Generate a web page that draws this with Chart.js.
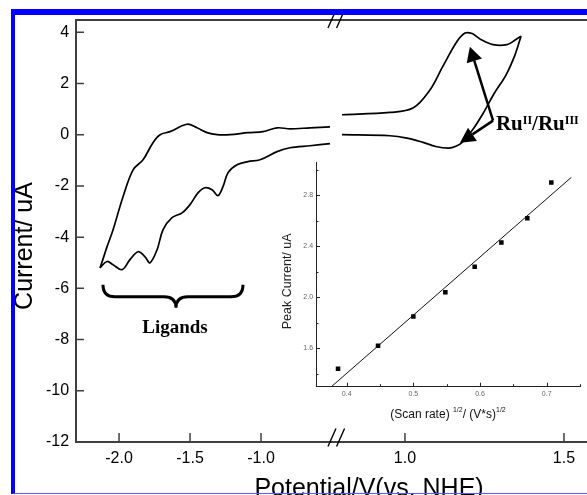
<!DOCTYPE html>
<html>
<head>
<meta charset="utf-8">
<script src="https://cdn.jsdelivr.net/npm/chart.js@4.4.1/dist/chart.umd.min.js"></script>
<style>
  html, body { margin: 0; padding: 0; background: #fff; }
  body { width: 587px; height: 495px; overflow: hidden; position: relative; }
  #main { position: absolute; left: 0; top: 0; width: 587px; height: 495px; }
  #inset { position: absolute; left: 270px; top: 150px; width: 317px; height: 285px; }
  #frame { position: absolute; left: 11px; top: 9px; width: 600px; height: 478px;
           border-top: 6px solid #0000ff; border-left: 4px solid #0000ff; border-bottom: 1px solid #5a5aff;
           pointer-events: none; }
</style>
</head>
<body>
<div id="main"><canvas id="cv"></canvas></div>
<div id="inset"><canvas id="peak"></canvas></div>
<div id="frame"></div>
<script>
Chart.defaults.font.family = "'Liberation Sans', Arial, sans-serif";
Chart.defaults.color = '#000';

// cyclic voltammogram, ligand region (E in V vs NHE, I in uA)
const ligandUpperE = [-2.134, -2.122, -2.085, -2.042, -1.972, -1.901, -1.831, -1.761, -1.711, -1.641, -1.521, -1.451, -1.380, -1.310, -1.218, -1.092, -0.986, -0.887, -0.796, -0.655, -0.514];
const ligandUpperI = [-5.20, -5.01, -4.38, -3.71, -2.42, -1.37, -0.98, -0.31, 0.00, 0.12, 0.41, 0.27, 0.08, 0.00, 0.00, 0.08, 0.12, 0.27, 0.23, 0.27, 0.31];
const ligandLowerE = [-2.134, -2.085, -2.042, -1.979, -1.923, -1.866, -1.817, -1.782, -1.732, -1.690, -1.627, -1.556, -1.500, -1.444, -1.394, -1.345, -1.303, -1.268, -1.232, -1.169, -1.092, -1.007, -0.887, -0.796, -0.655, -0.514];
const ligandLowerI = [-5.20, -4.95, -5.08, -5.27, -4.88, -4.57, -4.77, -5.00, -4.49, -3.71, -3.24, -3.05, -2.73, -2.27, -2.07, -2.15, -2.38, -2.03, -1.48, -1.17, -1.05, -0.98, -0.66, -0.51, -0.43, -0.35];

// Ru(II)/Ru(III) couple
const rutheniumUpperE = [0.802, 0.953, 1.025, 1.079, 1.119, 1.164, 1.189, 1.211, 1.236, 1.277, 1.321, 1.349, 1.365];
const rutheniumUpperI = [0.78, 0.87, 1.04, 1.76, 2.67, 3.65, 3.97, 3.95, 3.74, 3.52, 3.52, 3.72, 3.85];
const rutheniumLowerE = [0.802, 0.953, 1.006, 1.057, 1.097, 1.138, 1.160, 1.180, 1.211, 1.245, 1.280, 1.318, 1.346, 1.365];
const rutheniumLowerI = [0.00, -0.04, -0.13, -0.30, -0.46, -0.52, -0.45, -0.30, 0.16, 0.82, 1.60, 2.34, 3.12, 3.85];

const potentialTicks = [-2.0, -1.5, -1.0, 1.0, 1.5];
const currentTicks = [-12, -10, -8, -6, -4, -2, 0, 2, 4];

// peak current vs square root of scan rate
const scanRoot = [0.387, 0.447, 0.500, 0.548, 0.592, 0.632, 0.671, 0.707];
const peakCurrent = [1.44, 1.62, 1.85, 2.04, 2.24, 2.43, 2.62, 2.90];
const fitScanRoot = [0.377, 0.737];
const fitPeakCurrent = [1.30, 2.94];
const scanTicks = [0.4, 0.45, 0.5, 0.55, 0.6, 0.65, 0.7, 0.75];
const scanTickLabels = ['0.4', '', '0.5', '', '0.6', '', '0.7', ''];
const peakTicks = [1.4, 1.6, 1.8, 2.0, 2.2, 2.4, 2.6, 2.8, 3.0];
const peakTickLabels = ['', '1.6', '', '2.0', '', '2.4', '', '2.8', ''];

// broken potential axis: the Ru window is stretched and joined after the break
const LEFT_END = -0.47, RIGHT_START = 0.784, RIGHT_STRETCH = 2.24;
function axisPos(e) {
  return e < RIGHT_START ? e : LEFT_END + (e - RIGHT_START) * RIGHT_STRETCH;
}
const branch = (E, I) => E.map((e, i) => ({ x: axisPos(e), y: I[i] }));
const pairs = (X, Y) => X.map((v, i) => ({ x: v, y: Y[i] }));

function arrow(ctx, x0, y0, x1, y1, head, half) {
  const a = Math.atan2(y1 - y0, x1 - x0);
  const bx = x1 - head * Math.cos(a), by = y1 - head * Math.sin(a);
  ctx.beginPath();
  ctx.moveTo(x0, y0);
  ctx.lineTo(bx, by);
  ctx.stroke();
  ctx.beginPath();
  ctx.moveTo(x1, y1);
  ctx.lineTo(bx + half * Math.sin(a), by - half * Math.cos(a));
  ctx.lineTo(bx - half * Math.sin(a), by + half * Math.cos(a));
  ctx.closePath();
  ctx.fill();
}

const cvDecor = {
  id: 'cvDecor',
  afterDraw(chart) {
    const { ctx, chartArea: area, scales: { x, y } } = chart;
    const px = e => x.getPixelForValue(axisPos(e));
    const py = v => y.getPixelForValue(v);
    ctx.save();

    // top frame line
    ctx.strokeStyle = '#404040';
    ctx.lineWidth = 2;
    ctx.beginPath();
    ctx.moveTo(area.left, area.top);
    ctx.lineTo(area.right, area.top);
    ctx.stroke();

    // inward tick marks
    ctx.lineWidth = 1.5;
    ctx.beginPath();
    x.ticks.forEach(t => {
      const p = x.getPixelForValue(t.value);
      ctx.moveTo(p, area.bottom);
      ctx.lineTo(p, area.bottom - 9);
    });
    y.ticks.forEach(t => {
      const p = y.getPixelForValue(t.value);
      ctx.moveTo(area.left, p);
      ctx.lineTo(area.left + 8, p);
    });
    ctx.stroke();

    // axis break marks
    const bx = x.getPixelForValue(LEFT_END);
    ctx.strokeStyle = '#000';
    ctx.lineWidth = 1.4;
    [area.top - 1, area.bottom - 4.5].forEach(by => {
      ctx.beginPath();
      [-4.3, 4.3].forEach(dx => {
        ctx.moveTo(bx + dx - 4, by + 9);
        ctx.lineTo(bx + dx + 4, by - 9);
      });
      ctx.stroke();
    });

    // axis titles
    ctx.fillStyle = '#000';
    ctx.font = "25px 'Liberation Sans', Arial, sans-serif";
    ctx.textAlign = 'center';
    ctx.textBaseline = 'alphabetic';
    ctx.fillText('Potential/V(vs. NHE)', area.left + 293, area.bottom + 54);
    ctx.save();
    ctx.translate(32, (area.top + area.bottom) / 2 + 15);
    ctx.rotate(-Math.PI / 2);
    ctx.fillText('Current/ uA', 0, 0);
    ctx.restore();

    // brace over the ligand waves
    const bl = px(-2.113), br = px(-1.127), bc = px(-1.599);
    const bTop = py(-5.86), bMid = py(-6.33), bTip = py(-6.76), r = 12;
    ctx.lineWidth = 3;
    ctx.beginPath();
    ctx.moveTo(bl, bTop);
    ctx.quadraticCurveTo(bl, bMid, bl + r, bMid);
    ctx.lineTo(bc - r, bMid);
    ctx.quadraticCurveTo(bc, bMid, bc, bTip);
    ctx.moveTo(br, bTop);
    ctx.quadraticCurveTo(br, bMid, br - r, bMid);
    ctx.lineTo(bc + r, bMid);
    ctx.quadraticCurveTo(bc, bMid, bc, bTip);
    ctx.stroke();

    ctx.font = "bold 19px 'Liberation Serif', 'Times New Roman', serif";
    ctx.fillText('Ligands', px(-1.606), py(-7.73));

    // Ru(II)/Ru(III) label and arrows
    ctx.lineWidth = 2.5;
    const vx = px(1.277), vy = py(0.55);
    arrow(ctx, vx, vy, px(1.204), py(3.44), 15, 8);
    arrow(ctx, vx, vy, px(1.173), py(-0.31), 15, 8);

    let tx = px(1.286);
    const ty = py(0.195);
    ctx.textAlign = 'left';
    const part = (txt, sup) => {
      ctx.font = sup ? "bold 12px 'Liberation Serif', serif" : "bold 21px 'Liberation Serif', serif";
      ctx.fillText(txt, tx, sup ? ty - 5.5 : ty);
      tx += ctx.measureText(txt).width;
    };
    part('Ru', false); part('II', true); part('/Ru', false); part('III', true);

    ctx.restore();
  }
};

new Chart(document.getElementById('cv'), {
  type: 'scatter',
  data: {
    datasets: [
      { data: branch(ligandUpperE, ligandUpperI) },
      { data: branch(ligandLowerE, ligandLowerI) },
      { data: branch(rutheniumUpperE, rutheniumUpperI) },
      { data: branch(rutheniumLowerE, rutheniumLowerI) }
    ].map(d => Object.assign(d, {
      showLine: true, borderColor: '#000', borderWidth: 1.7, pointRadius: 0, tension: 0.35
    }))
  },
  options: {
    responsive: true,
    maintainAspectRatio: false,
    animation: false,
    layout: { padding: { left: 38.9, top: 20, right: 0, bottom: 19.8 } },
    plugins: { legend: { display: false }, tooltip: { enabled: false } },
    scales: {
      x: {
        min: -2.303, max: 1.296,
        afterBuildTicks: s => { s.ticks = potentialTicks.map(v => ({ value: axisPos(v) })); },
        ticks: { callback: (v, i) => potentialTicks[i].toFixed(1), font: { size: 16 }, color: '#000',
                 padding: 7, maxRotation: 0, autoSkip: false },
        grid: { display: false, drawTicks: false },
        border: { display: true, color: '#404040', width: 2 }
      },
      y: {
        min: -12, max: 4.48,
        afterBuildTicks: s => { s.ticks = currentTicks.map(v => ({ value: v })); },
        ticks: { callback: v => String(v), font: { size: 16 }, color: '#000', padding: 7 },
        grid: { display: false, drawTicks: false },
        border: { display: true, color: '#404040', width: 2 }
      }
    }
  },
  plugins: [cvDecor]
});

const insetDecor = {
  id: 'insetDecor',
  afterDraw(chart) {
    const { ctx, chartArea: area, scales: { x, y } } = chart;
    ctx.save();
    ctx.strokeStyle = '#222';
    ctx.lineWidth = 1;
    ctx.beginPath();
    x.ticks.forEach((t, i) => {
      const p = Math.round(x.getPixelForValue(t.value)) + 0.5;
      ctx.moveTo(p, area.bottom);
      ctx.lineTo(p, area.bottom - (scanTickLabels[i] ? 4 : 2.5));
    });
    y.ticks.forEach((t, i) => {
      const p = Math.round(y.getPixelForValue(t.value)) + 0.5;
      ctx.moveTo(area.left, p);
      ctx.lineTo(area.left + (peakTickLabels[i] ? 4 : 2.5), p);
    });
    ctx.stroke();

    // y title, set a little below the axis middle
    ctx.fillStyle = '#222';
    ctx.font = "12.5px 'Liberation Sans', Arial, sans-serif";
    ctx.textAlign = 'center';
    ctx.textBaseline = 'middle';
    ctx.save();
    ctx.translate(area.left - 28, (area.top + area.bottom) / 2 + 7);
    ctx.rotate(-Math.PI / 2);
    ctx.fillText('Peak Current/ uA', 0, 0);
    ctx.restore();

    // x title with superscript exponents
    const parts = [['(Scan rate) ', false], ['1/2', true], ['/ (V*s)', false], ['1/2', true]];
    const big = "12px 'Liberation Sans', Arial, sans-serif", small = "7px 'Liberation Sans', Arial, sans-serif";
    let w = 0;
    parts.forEach(([t, sup]) => { ctx.font = sup ? small : big; w += ctx.measureText(t).width; });
    let tx = (area.left + area.right) / 2 - w / 2;
    const ty = area.bottom + 31.6;
    ctx.fillStyle = '#111';
    ctx.textAlign = 'left';
    ctx.textBaseline = 'alphabetic';
    parts.forEach(([t, sup]) => {
      ctx.font = sup ? small : big;
      ctx.fillText(t, tx, sup ? ty - 6 : ty);
      tx += ctx.measureText(t).width;
    });
    ctx.restore();
  }
};

new Chart(document.getElementById('peak'), {
  type: 'scatter',
  data: {
    datasets: [
      { data: pairs(scanRoot, peakCurrent), pointStyle: 'rect', pointRadius: 3.2,
        backgroundColor: '#000', borderWidth: 0 },
      { data: pairs(fitScanRoot, fitPeakCurrent), showLine: true, pointRadius: 0,
        borderColor: '#111', borderWidth: 1 }
    ]
  },
  options: {
    responsive: true,
    maintainAspectRatio: false,
    animation: false,
    layout: { padding: { left: 30.3, top: 12, right: 7, bottom: 33.9 } },
    plugins: { legend: { display: false }, tooltip: { enabled: false } },
    scales: {
      x: {
        min: 0.354, max: 0.75,
        afterBuildTicks: s => { s.ticks = scanTicks.map(v => ({ value: v })); },
        ticks: { callback: (v, i) => scanTickLabels[i], font: { size: 7 }, color: '#666',
                 padding: 3, maxRotation: 0, autoSkip: false },
        grid: { display: false, drawTicks: false },
        border: { display: true, color: '#222', width: 1 }
      },
      y: {
        min: 1.30, max: 3.06,
        afterBuildTicks: s => { s.ticks = peakTicks.map(v => ({ value: v })); },
        ticks: { callback: (v, i) => peakTickLabels[i], font: { size: 7 }, color: '#666',
                 padding: 3, autoSkip: false },
        grid: { display: false, drawTicks: false },
        border: { display: true, color: '#222', width: 1 }
      }
    }
  },
  plugins: [insetDecor]
});
</script>
</body>
</html>
